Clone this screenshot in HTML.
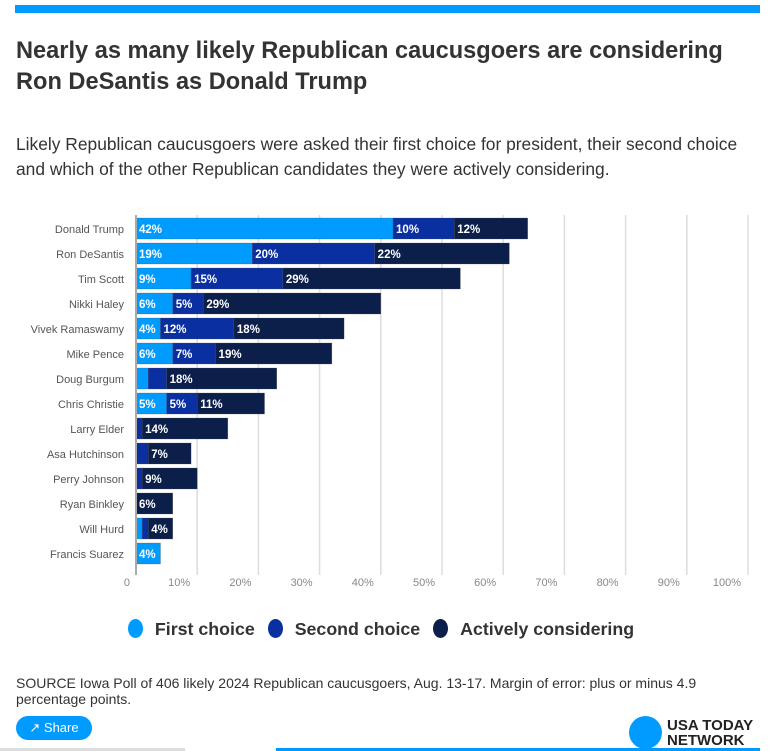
<!DOCTYPE html>
<html><head><meta charset="utf-8"><style>
body{margin:0;width:783px;height:751px;overflow:hidden;background:#fff;font-family:"Liberation Sans",sans-serif;position:relative}
.abs{position:absolute}
</style></head><body>
<div class="abs" style="left:15px;top:5px;width:745px;height:8px;background:#009bff"></div>
<div class="abs" style="left:16px;top:36px;width:740px;font-size:23.6px;font-weight:bold;line-height:31px;color:#333">Nearly as many likely Republican caucusgoers are considering Ron DeSantis as Donald Trump</div>
<div class="abs" style="left:16px;top:132px;width:745px;font-size:17.4px;line-height:25px;color:#333">Likely Republican caucusgoers were asked their first choice for president, their second choice and which of the other Republican candidates they were actively considering.</div>
<svg class="abs" style="left:0;top:200px" width="783" height="400" id="chart"></svg>
<div class="abs" style="left:0;top:619px;width:762px;text-align:center;font-size:17.8px;font-weight:bold;color:#333">
<span><span style="display:inline-block;width:15px;height:19px;border-radius:50%;background:#009bff;vertical-align:-3px;margin-right:12px"></span>First choice</span>
<span style="margin-left:8px"><span style="display:inline-block;width:15px;height:19px;border-radius:50%;background:#0a2fa1;vertical-align:-3px;margin-right:12px"></span>Second choice</span>
<span style="margin-left:8px"><span style="display:inline-block;width:15px;height:19px;border-radius:50%;background:#0b1f4a;vertical-align:-3px;margin-right:12px"></span>Actively considering</span>
</div>
<div class="abs" style="left:16px;top:675px;width:745px;font-size:14px;line-height:16px;color:#333">SOURCE Iowa Poll of 406 likely 2024 Republican caucusgoers, Aug. 13-17. Margin of error: plus or minus 4.9 percentage points.</div>
<div class="abs" style="left:16px;top:716px;width:76px;height:24px;border-radius:12px;background:#009bff;color:#fff;font-size:13px;line-height:24px;text-align:center">&#x2197;&#xFE0E; Share</div>
<div class="abs" style="left:629px;top:716px;width:33px;height:33px;border-radius:50%;background:#009bff"></div>
<div class="abs" style="left:667px;top:718px;font-size:15px;font-weight:bold;line-height:15px;color:#222">USA TODAY<br>NETWORK</div>
<div class="abs" style="left:0;top:748px;width:185px;height:3px;background:#ddd"></div>
<div class="abs" style="left:276px;top:748px;width:484px;height:3px;background:#009bff"></div>
<script>
const candidates=["Donald Trump","Ron DeSantis","Tim Scott","Nikki Haley","Vivek Ramaswamy","Mike Pence","Doug Burgum","Chris Christie","Larry Elder","Asa Hutchinson","Perry Johnson","Ryan Binkley","Will Hurd","Francis Suarez"];
const firstChoice=[42,19,9,6,4,6,2,5,0,0,0,0,1,4];
const secondChoice=[10,20,15,5,12,7,3,5,1,2,1,0,1,0];
const considering=[12,22,29,29,18,19,18,11,14,7,9,6,4,0];
const ticks=[0,10,20,30,40,50,60,70,80,90,100];
const NS="http://www.w3.org/2000/svg";
const svg=document.getElementById('chart');
const x0=136,pxPer=6.12,rowH=25,top0=17;
const x=v=>x0+v*pxPer;
const y=i=>top0+i*rowH;
function mk(t,a){const e=document.createElementNS(NS,t);for(const k in a)e.setAttribute(k,a[k]);svg.appendChild(e);return e;}
ticks.forEach(t=>{
  if(t>0){const g=mk('line',{x1:x(t),x2:x(t),y1:15,y2:375,stroke:'#ddd','stroke-width':1.5});
  
  }
  const tx=mk('text',{x:t===0?x(t)-6:x(t)-7,y:386,'text-anchor':'end','font-size':11,fill:'#888','font-family':'Liberation Sans'});
  tx.textContent=t===0?'0':t+'%';
  
  
});
const series=[[firstChoice,'#009bff','first'],[secondChoice,'#0a2fa1','second'],[considering,'#0b1f4a','considering']];
candidates.forEach((c,i)=>{
  const lb=mk('text',{x:124,y:y(i)+16,'text-anchor':'end','font-size':11,fill:'#555','font-family':'Liberation Sans'});
  lb.textContent=c;
  
  
  let acc=0;
  series.forEach(([arr,col,nm])=>{
    const v=arr[i];if(v<=0)return;
    const r=mk('rect',{x:x(acc),y:y(i)+1,width:v*pxPer,height:21,fill:col,stroke:'#555','stroke-opacity':0.5,'stroke-width':0.5});
    
    
    if(v>=4){const t=mk('text',{x:x(acc)+3,y:y(i)+16,'font-size':11.5,'font-weight':'bold',fill:'#fff','font-family':'Liberation Sans'});
      t.textContent=v+'%';
      
      }
    acc+=v;
  });
});
const ax=mk('line',{x1:x0,x2:x0,y1:15,y2:375,stroke:'#aaa','stroke-width':2});


</script>
</body></html>
